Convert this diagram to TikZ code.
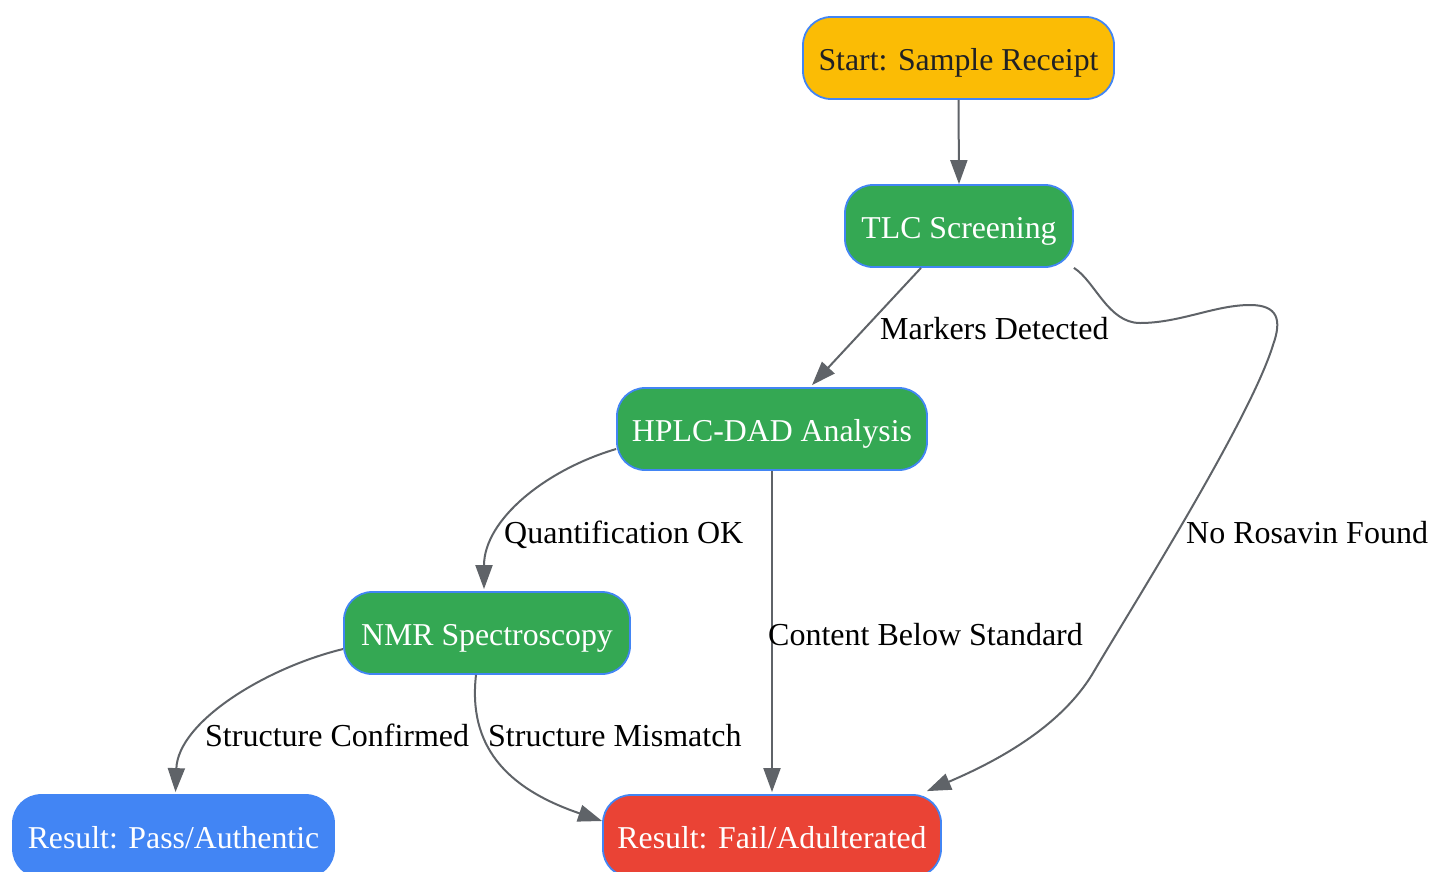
\documentclass[tikz,border=0pt]{standalone}
\usepackage{fontspec}
\setmainfont{Liberation Serif}
\usetikzlibrary{arrows.meta,calc}
\definecolor{gyellow}{HTML}{FBBC05}
\definecolor{ggreen}{HTML}{34A853}
\definecolor{gblue}{HTML}{4285F4}
\definecolor{gred}{HTML}{EA4335}
\definecolor{gedge}{HTML}{5F6368}
\definecolor{gdark}{HTML}{202124}
\tikzset{
  box/.style={draw=gblue, line width=1.8pt, rounded corners=28pt, minimum height=82pt,
    inner sep=0pt, text height=26pt, text depth=2pt,
    font=\fontsize{31.8}{36}\selectfont},
  conn/.style={draw=gedge, line width=2pt, -{Triangle[length=24pt,width=17pt]}},
  lbl/.style={inner sep=0pt, anchor=base west, font=\fontsize{32}{36}\selectfont, text=black}
}
\begin{document}
\begin{tikzpicture}[x=1pt,y=-1pt]
\useasboundingbox (0,0) rectangle (1431,871);
\node[box, fill=gyellow, text=gdark, minimum width=311pt] (start) at (958.5,58) {Start: Sample Receipt};
\node[box, fill=ggreen, text=white, minimum width=228pt] (tlc) at (959,226) {TLC Screening};
\node[box, fill=ggreen, text=white, minimum width=310pt] (hplc) at (772,429) {HPLC-DAD Analysis};
\node[box, fill=ggreen, text=white, minimum width=286pt] (nmr) at (487,633) {NMR Spectroscopy};
\node[box, fill=gblue, text=white, minimum width=321pt] (pass) at (173.5,836) {Result: Pass/Authentic};
\node[box, fill=gred, text=white, minimum width=338pt] (fail) at (772,836) {Result: Fail/Adulterated};

\draw[conn] (start.south) -- (tlc.north);
\draw[conn] ($(tlc.south)+(-38,0)$) -- ($(hplc.north)+(40,-2)$);
\draw[conn] (tlc.south east) .. controls (1095,281) and (1108,323) .. (1140,323)
  .. controls (1180,323) and (1215,305) .. (1250,305)
  .. controls (1278,305) and (1282,320) .. (1273,345)
  .. controls (1250,420) and (1130,610) .. (1093,673)
  .. controls (1060,728) and (995,762) .. ($(fail.north east)+(-15,-3)$);
\draw[conn] ($(hplc.west)+(0,20)$) .. controls (545,470) and (484,520) .. ($(nmr.north)+(-3,-2)$);
\draw[conn] (hplc.south) -- ($(fail.north)+(0,-2)$);
\draw[conn] ($(nmr.west)+(0,16)$) .. controls (265,668) and (178,722) .. ($(pass.north)+(2,-2)$);
\draw[conn] ($(nmr.south)+(-11,0)$) .. controls (468,745) and (505,788) .. ($(fail.west)+(0,-15)$);

\node[lbl] (l1) at (880,339) {Markers Detected};
\node[lbl] (l2) at (1186,543) {No Rosavin Found};
\node[lbl] (l3) at (504,543) {Quantification OK};
\node[lbl] (l4) at (768,645) {Content Below Standard};
\node[lbl] (l5) at (205,746) {Structure Confirmed};
\node[lbl] (l6) at (488,746) {Structure Mismatch};
\end{tikzpicture}
\end{document}
